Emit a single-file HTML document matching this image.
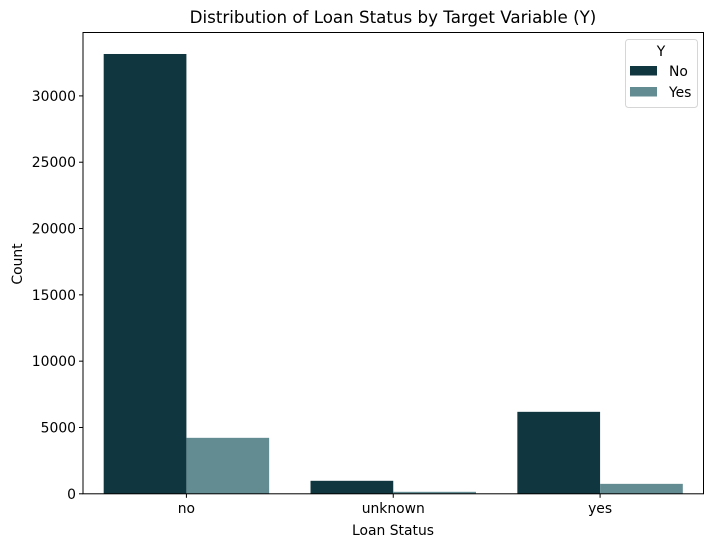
<!DOCTYPE html>
<html><head><meta charset="utf-8"><style>
body{margin:0;background:#fff;}
svg text{font-family:"DejaVu Sans","Liberation Sans",sans-serif;fill:#000;}
</style></head><body>
<svg id="chart" width="713" height="547" viewBox="0 0 713 547" xmlns="http://www.w3.org/2000/svg">
<text x="393" y="23" font-size="16.7" text-anchor="middle">Distribution of Loan Status by Target Variable (Y)</text>
<g id="bars"></g>
<g id="axes"></g>
<text x="393" y="535" font-size="13.9" text-anchor="middle">Loan Status</text>
<text transform="translate(22,264) rotate(-90)" font-size="13.9" text-anchor="middle">Count</text>
<g>
<rect x="625.5" y="39.5" width="72" height="68" rx="3" fill="#fff" fill-opacity="0.8" stroke="#d6d6d6"/>
<text x="661" y="56" font-size="13.9" text-anchor="middle">Y</text>
<rect x="630" y="66" width="27" height="9.5" fill="#10363f"/>
<text x="669" y="76" font-size="13.9">No</text>
<rect x="630" y="87" width="27" height="9.5" fill="#638c92"/>
<text x="669" y="97" font-size="13.9">Yes</text>
</g>
</svg>
<script>
const categories = ["no","unknown","yes"];
const seriesNo = [33160, 980, 6180];
const seriesYes = [4220, 150, 750];
const yTicks = [0,5000,10000,15000,20000,25000,30000];
const ns="http://www.w3.org/2000/svg";
const L=83, R=703.5, T=32.5, B=493.8, yMax=34780;
const band=(R-L)/categories.length;
const xc=i=>L+band*(i+0.5);
const y=v=>B-(v/yMax)*(B-T);
const bars=document.getElementById('bars'), axes=document.getElementById('axes');
function mk(tag,attrs,parent){const e=document.createElementNS(ns,tag);for(const k in attrs)e.setAttribute(k,attrs[k]);parent.appendChild(e);return e;}
const bw=band*0.4;
categories.forEach((c,i)=>{
  const a=mk('rect',{x:xc(i)-bw,y:y(seriesNo[i]),width:bw,height:B-y(seriesNo[i]),fill:'#10363f'},bars);
  
  
  const b=mk('rect',{x:xc(i),y:y(seriesYes[i]),width:bw,height:B-y(seriesYes[i]),fill:'#638c92'},bars);
  
  
  const t=mk('line',{x1:xc(i),x2:xc(i),y1:B,y2:B+4,stroke:'#000'},axes);
  
  
  const l=mk('text',{x:xc(i),y:B+19,'font-size':13.9,'text-anchor':'middle'},axes);
  l.textContent=c;
  
  
});
yTicks.forEach(v=>{
  const t=mk('line',{x1:L-4,x2:L,y1:y(v),y2:y(v),stroke:'#000'},axes);
  
  
  const l=mk('text',{x:L-7,y:y(v)+5,'font-size':13.9,'text-anchor':'end'},axes);
  l.textContent=v;
  
  
});
const f=mk('rect',{x:L,y:T,width:R-L,height:B-T,fill:'none',stroke:'#000','stroke-width':1},axes);


</script>
</body></html>
